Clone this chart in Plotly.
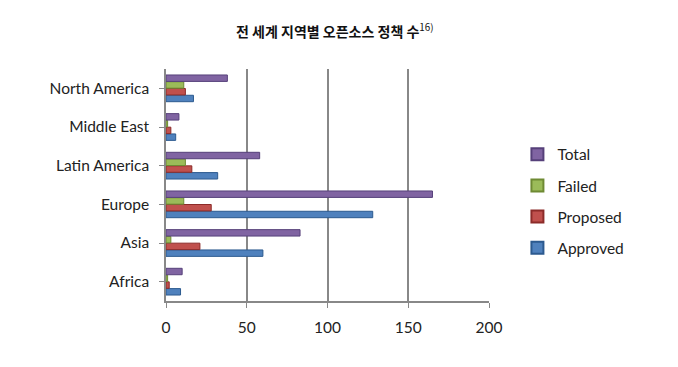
import plotly.graph_objects as go

regions = ["Africa", "Asia", "Europe", "Latin America", "Middle East", "North America"]
approved = [9, 60, 128, 32, 6, 17]
proposed = [2, 21, 28, 16, 3, 12]
failed = [1, 3, 11, 12, 1, 11]
total = [10, 83, 165, 58, 8, 38]

series = [
    ("Approved", approved, "#4F81BD", "#2C5A8F", 4),
    ("Proposed", proposed, "#C0504D", "#8C2B29", 3),
    ("Failed", failed, "#9BBB59", "#6E8A33", 2),
    ("Total", total, "#8064A2", "#56407A", 1),
]

fig = go.Figure()
for name, vals, col, line, rank in series:
    fig.add_trace(go.Bar(
        y=regions, x=vals, name=name, orientation="h", legendgroup=name,
        legendrank=rank,
        marker=dict(color=col, line=dict(color=line, width=1)),
    ))

fig.update_layout(
    width=678, height=367,
    barmode="group", bargap=0.3, bargroupgap=0.05,
    paper_bgcolor="white", plot_bgcolor="white",
    margin=dict(l=158, r=197, t=61, b=74),
    font=dict(family="Lato, 'Noto Sans', sans-serif", size=15.5, color="#222"),
    title=dict(
        text="<b>전 세계 지역별 오픈소스 정책 수</b><sup>16)</sup>",
        x=0.482, xanchor="center", y=0.935, yanchor="middle",
        font=dict(family="'Noto Sans CJK KR', sans-serif", size=14, color="#111"),
    ),
    legend=dict(
        traceorder="grouped", x=1.088, y=0.43, xanchor="left", yanchor="middle",
        font=dict(size=15.5), itemsizing="constant", tracegroupgap=8,
        itemwidth=30,
    ),
    xaxis=dict(
        range=[0, 200], tickvals=[0, 50, 100, 150, 200],
        showgrid=True, gridcolor="#888", gridwidth=2,
        showline=True, linecolor="#888", linewidth=1.5,
        ticks="outside", ticklen=5, tickcolor="#888",
        zeroline=False, tickfont=dict(size=15.5), ticklabelstandoff=7,
    ),
    yaxis=dict(
        showline=True, linecolor="#888", linewidth=1.5,
        ticks="outside", ticklen=5, tickcolor="#888",
        showgrid=False, tickfont=dict(size=15.5), ticklabelstandoff=7,
        categoryorder="array", categoryarray=regions,
    ),
)

fig.write_html("out.html")
